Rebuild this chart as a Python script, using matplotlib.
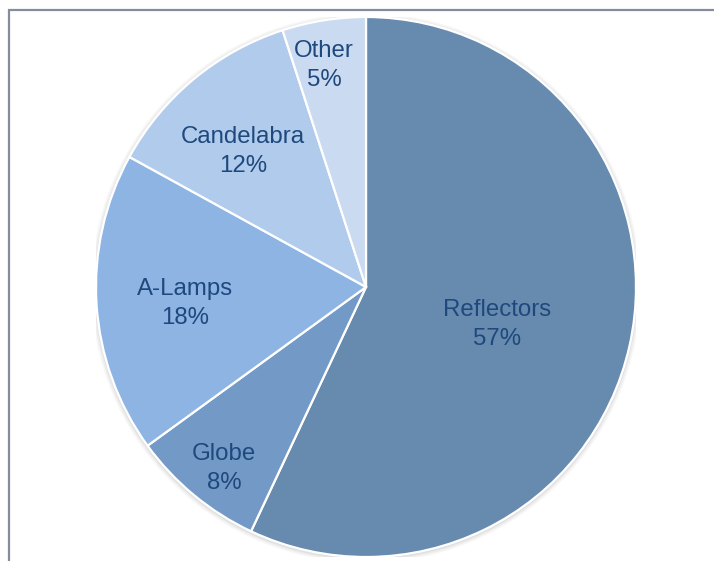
import numpy as np
import matplotlib.pyplot as plt
from matplotlib.lines import Line2D
from matplotlib.patches import Circle

categories = ["Reflectors", "Globe", "A-Lamps", "Candelabra", "Other"]
shares = [57, 8, 18, 12, 5]
colors = ["#678aaf", "#7399c6", "#8db4e3", "#b0cbec", "#c9daf1"]

# label placement: fraction of radius and angular nudge (degrees) from slice middle
label_radius = [0.503, 0.849, 0.672, 0.683, 0.842]
label_nudge = [-2.6, 1.3, 1.0, 2.2, 1.6]
LABEL_LIFT = 0.015  # small upward shift of the two-line labels

plt.rcParams["font.family"] = ["Liberation Sans", "DejaVu Sans"]

fig = plt.figure(figsize=(7.14, 5.61), dpi=100)
fig.patch.set_facecolor("white")

# outer frame (only top and left edges visible)
W, H = 714, 561
fig.add_artist(Line2D([9 / W, 9 / W], [0, 1 - 9 / H], transform=fig.transFigure,
                      color="#868b9e", lw=1.6, solid_capstyle="butt"))
fig.add_artist(Line2D([8 / W, 1], [1 - 9.5 / H, 1 - 9.5 / H], transform=fig.transFigure,
                      color="#868b9e", lw=1.6, solid_capstyle="butt"))

ax = fig.add_axes([96 / W, 4 / H, 540 / W, 540 / H])

# soft shadow around the pie
for i, a in enumerate([0.05, 0.04, 0.03]):
    ax.add_patch(Circle((0.0, -0.004), 1.0 + 0.006 * (i + 1), color="#000000",
                        alpha=a, lw=0, zorder=0))

wedges, _ = ax.pie(shares, colors=colors, startangle=90, counterclock=False,
                   radius=1.0, wedgeprops=dict(edgecolor="white", linewidth=1.6),
                   normalize=True)
for w in wedges:
    w.set_zorder(2)

ax.set_xlim(-1, 1)
ax.set_ylim(-1, 1)
ax.set_aspect("equal")
ax.axis("off")

total = sum(shares)
start = 90.0
for name, val, r, nudge in zip(categories, shares, label_radius, label_nudge):
    sweep = 360.0 * val / total
    mid = np.deg2rad(start - sweep / 2 + nudge)
    start -= sweep
    ax.text(r * np.cos(mid), r * np.sin(mid) + LABEL_LIFT, f"{name}\n{val}%",
            ha="center", va="center_baseline", fontsize=17.3, color="#1f497d",
            linespacing=1.42, zorder=3)

fig.savefig("out.png", dpi=100)
